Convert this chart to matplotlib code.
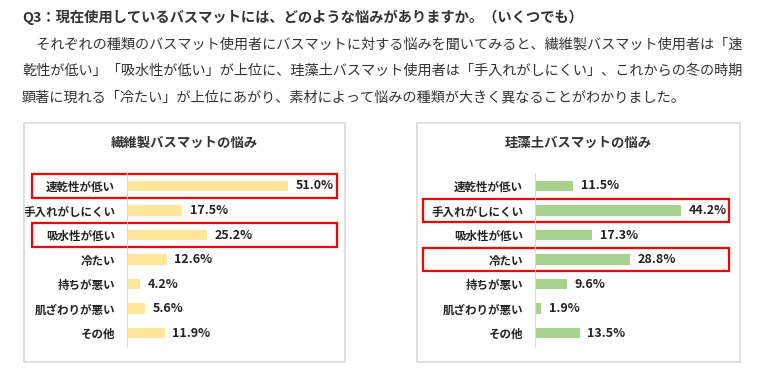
import matplotlib
matplotlib.use('Agg')
from matplotlib import pyplot as plt
from matplotlib.patches import Rectangle
import matplotlib.transforms as mtransforms

plt.rcParams['font.family'] = ['Noto Sans CJK JP', 'DejaVu Sans']

# データ
categories = ['速乾性が低い', '手入れがしにくい', '吸水性が低い', '冷たい',
              '持ちが悪い', '肌ざわりが悪い', 'その他']
fiber_values = [51.0, 17.5, 25.2, 12.6, 4.2, 5.6, 11.9]
diatom_values = [11.5, 44.2, 17.3, 28.8, 9.6, 1.9, 13.5]
fiber_highlight = [0, 2]
diatom_highlight = [1, 3]

title_q = 'Q3：現在使用しているバスマットには、どのような悩みがありますか。（いくつでも）'
body_lines = [
    '　それぞれの種類のバスマット使用者にバスマットに対する悩みを聞いてみると、繊維製バスマット使用者は「速',
    '乾性が低い」「吸水性が低い」が上位に、珪藻土バスマット使用者は「手入れがしにくい」、これからの冬の時期',
    '顕著に現れる「冷たい」が上位にあがり、素材によって悩みの種類が大きく異なることがわかりました。',
]

W, H = 766, 373
fig = plt.figure(figsize=(W / 100, H / 100), dpi=100)
fig.patch.set_facecolor('white')

# 見出しと本文
fig.text(22 / W, 1 - 17 / H, title_q, fontsize=10.3, fontweight='bold',
         color='#333333', va='center', ha='left')
for i, line in enumerate(body_lines):
    fig.text(22 / W, 1 - (45 + 26 * i) / H, line, fontsize=10.2,
             color='#333333', va='center', ha='left')


def px_box(x0, y0, x1, y1):
    # ピクセル座標 -> figure 座標
    return [x0 / W, 1 - y1 / H, (x1 - x0) / W, (y1 - y0) / H]


def draw_panel(frame, axis_x, axis_right, scale, title, values, color,
               highlight, box_x, box_half):
    # 外枠
    fx0, fy0, fx1, fy1 = frame
    fig.add_artist(Rectangle((fx0 / W, 1 - fy1 / H), (fx1 - fx0) / W,
                             (fy1 - fy0) / H, transform=fig.transFigure,
                             fill=False, edgecolor='#d9d9d9', linewidth=1.2))
    fig.text((fx0 + fx1) / 2 / W, 1 - 143 / H, title, fontsize=9.6,
             fontweight='bold', color='#333333', ha='center', va='center')

    ax = fig.add_axes(px_box(axis_x, 173, axis_right, 347))
    pos = range(len(categories))
    ax.barh(pos, values, height=0.42, color=color)
    ax.set_xlim(0, (axis_right - axis_x) / scale)
    ax.set_ylim(6.57, -0.53)
    ax.set_yticks(list(pos))
    ax.set_yticklabels(categories, fontsize=8.3, fontweight='bold', color='#222222')
    ax.tick_params(axis='y', length=0, pad=8.5)
    ax.set_xticks([])
    for s in ['top', 'right', 'bottom']:
        ax.spines[s].set_visible(False)
    ax.spines['left'].set_color('#d9d9d9')
    ax.patch.set_alpha(0)

    for i, v in enumerate(values):
        ax.annotate(f'{v:.1f}%', (v, i), xytext=(5.5, 0), textcoords='offset points',
                    fontsize=9, fontweight='bold', color='#222222',
                    va='center', ha='left')

    # 赤枠（強調）
    trans = mtransforms.blended_transform_factory(ax.transAxes, ax.transData)
    for i in highlight:
        ax.add_patch(Rectangle((box_x[0], i - box_half), box_x[1] - box_x[0],
                               2 * box_half, transform=trans, fill=False,
                               edgecolor='#ff0000', linewidth=1.6, clip_on=False))


draw_panel((24, 123, 345, 362), 127, 340, 3.16, '繊維製バスマットの悩み',
           fiber_values, '#ffe699', fiber_highlight, (-0.446, 0.986), 0.49)
draw_panel((417, 123, 740, 362), 535, 735, 3.3, '珪藻土バスマットの悩み',
           diatom_values, '#a9d18e', diatom_highlight, (-0.56, 0.97), 0.45)

plt.savefig('out.png', dpi=100)
